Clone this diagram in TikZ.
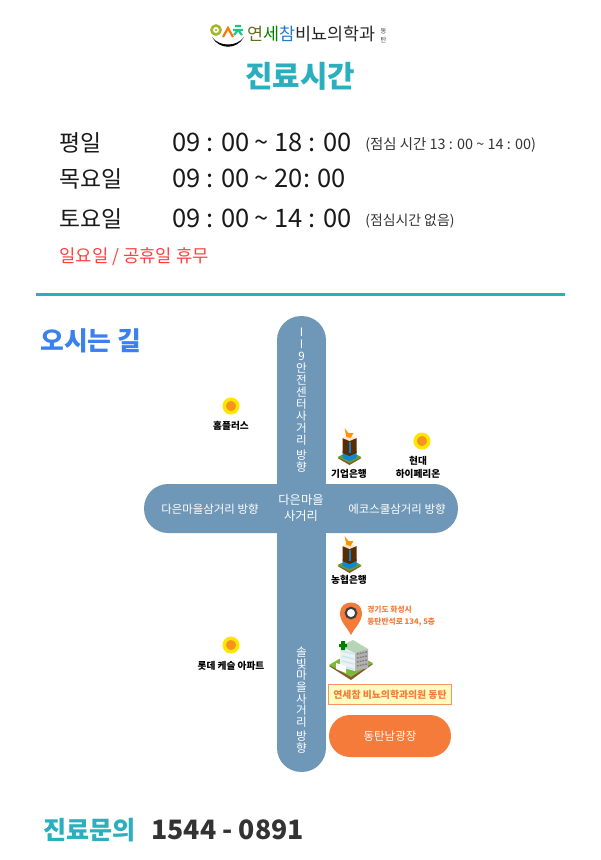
\documentclass[tikz,border=0pt]{standalone}
\usepackage{fontspec}
\setmainfont{Noto Sans CJK KR}
\definecolor{tealtext}{HTML}{2BAEBE}
\definecolor{roadblue}{HTML}{6F97B8}
\definecolor{pinorange}{HTML}{F47B3A}
\definecolor{sunyellow}{HTML}{FFE600}
\definecolor{sunorange}{HTML}{F7931E}
\definecolor{logogreen}{HTML}{A3B82C}
\definecolor{wayblue}{HTML}{3A80EE}
\definecolor{closedred}{HTML}{FF4040}
\definecolor{lawngreen}{HTML}{7DB83B}
\tikzstyle{hours}=[anchor=west,inner sep=0pt,text=black!90,font=\fontsize{14.5}{16}\selectfont]
\tikzstyle{day}=[anchor=west,inner sep=0pt,text=black!90,font=\fontsize{13}{15}\selectfont]
\tikzstyle{lunch}=[anchor=west,inner sep=0pt,text=black!80,font=\fontsize{7.9}{9}\selectfont]
\tikzstyle{road}=[rectangle,fill=roadblue,rounded corners=0.48cm,inner sep=0pt,outer sep=0pt]
\tikzstyle{roadtext}=[inner sep=0pt,text=white,align=center,font=\fontsize{6.5}{9}\selectfont]
\tikzstyle{roadcol}=[inner sep=0pt,text=white,align=center,font=\fontsize{6.6}{6.85}\selectfont]
\tikzstyle{place}=[inner sep=0pt,align=center,text=black,font=\fontsize{5.5}{7.4}\selectfont\bfseries]
\tikzstyle{sundot}=[circle,fill=sunorange,draw=sunyellow,line width=2pt,minimum size=7.7pt,inner sep=0pt]
\tikzset{
  bankicon/.pic={
    \fill[brown!70!black] (-12,11) -- (0,5) -- (12,11) -- (0,18) -- cycle;
    \fill[lawngreen!85!black] (-12,10) -- (0,4) -- (12,10) -- (0,16) -- cycle;
    \fill[cyan!70!blue] (-7,4) -- (7,4) -- (7,11) -- (0,14) -- (-7,11) -- cycle;
    \fill[black!65!orange] (-7,-9) -- (0,-7) -- (7,-9) -- (7,6) -- (0,9) -- (-7,6) -- cycle;
    \fill[cyan!60!blue] (-1,-5) rectangle (1,6);
    \fill[orange!20] (-7,-9) -- (-2,-12) -- (7,-9) -- (0,-6) -- cycle;
    \fill[orange!85!yellow] (-5,-19) -- (-1,-14) -- (4,-14) -- (1,-9) -- (-3,-10) -- cycle;
  },
  clinicicon/.pic={
    \fill[brown!70!black] (-22,1) -- (0,-13) -- (22,-1) -- (0,15) -- cycle;
    \fill[lawngreen] (-22,0) -- (0,-13) -- (22,-2) -- (0,12) -- cycle;
    \fill[black!30] (4,-13) -- (17,-16) -- (17,3) -- (4,6) -- cycle;
    \fill[black!6] (-11,-18) -- (4,-13) -- (4,6) -- (-11,2) -- cycle;
    \fill[green!25!gray!45] (-11,-19) -- (2,-25) -- (17,-16) -- (4,-12) -- cycle;
    \foreach \row in {-14,-9,-4,1}
      \draw[cyan!25,line width=0.8pt] (-9,\row) -- (3,\row+3);
    \foreach \row in {-11,-7,-3,1}
      \draw[black!50,line width=0.8pt,dash pattern=on 1pt off 0.6pt] (6,\row) -- (16,\row-2);
    \fill[white] (-15,-2) -- (-5,1) -- (-5,8) -- (-15,4) -- cycle;
    \fill[green!50!black] (-10,-24) rectangle (-6,-15) (-12,-21) rectangle (-4,-18);
  }
}
\begin{document}
\begin{tikzpicture}[x=0.02cm,y=-0.02cm]
\useasboundingbox (0,0) rectangle (600,860);
% logo
\draw[logogreen,line width=1.5pt] (216,30) circle (4.5);
\fill[logogreen] (216,30) circle (1.4);
\draw[orange!90!red,line width=1.2pt] (223,37) -- (228,28) -- (233,37);
\draw[tealtext!70!green,line width=1.2pt] (233,30) -- (243,30) (238,30) -- (234,35) (238,30) -- (242,35) (235,26) -- (241,26);
\fill[black] (212,37) .. controls (219,47) and (237,47) .. (244,37) .. controls (237,50) and (219,50) .. (212,37) -- cycle;
\node[inner sep=0pt,anchor=west,font=\fontsize{9.9}{11}\selectfont] at (247,34) (logotext) {\textcolor{logogreen!60!black}{연}\textcolor{green!50!black}{세}\textcolor{tealtext!70!blue}{참}\textcolor{black!85}{비뇨의학과}};
\node[inner sep=0pt,align=center,text=black!75,font=\fontsize{3.6}{5}\selectfont] at (383.5,36) (logobranch) {동\\탄};
\node[inner sep=0pt,text=tealtext,font=\fontsize{17}{19}\selectfont\bfseries] at (300,76) (title) {진료시간};

% hours
\node[day] at (59, 143) (weekday) {평일};
\node[day] at (59, 179) (thursday) {목요일};
\node[day] at (59, 219) (saturday) {토요일};
\node[hours] at (172, 142) (weekdaytime) {09 : 00 \textasciitilde\ 18 : 00};
\node[hours] at (172, 178) (thursdaytime) {09 : 00 \textasciitilde\ 20: 00};
\node[hours] at (172, 218) (saturdaytime) {09 : 00 \textasciitilde\ 14 : 00};
\node[lunch,font=\fontsize{8.2}{9}\selectfont] at (365, 145) (weekdaylunch) {(점심 시간 13 : 00 \textasciitilde\ 14 : 00)};
\node[lunch] at (365, 221) (saturdaylunch) {(점심시간 없음)};
\node[anchor=west,inner sep=0pt,text=closedred,font=\fontsize{10.1}{12}\selectfont] at (59, 257) (closed) {일요일 / 공휴일 휴무};
\fill[tealtext] (36,292.5) rectangle (565,295.5);

\node[anchor=west,inner sep=0pt,text=wayblue,font=\fontsize{14.7}{18}\selectfont\bfseries] at (40, 341) (waytitle) {오시는 길};

% roads
\node[road,minimum width=0.98cm,minimum height=9.12cm] at (301.5, 544) (roadv) {};
\node[road,minimum width=6.28cm,minimum height=0.98cm] at (301, 508.5) (roadh) {};
\node[roadcol] at (301.5, 400) (roadnorth) {I\\I\\9\\안\\전\\센\\터\\사\\거\\리\\[1.6pt]방\\향};
\node[roadcol,font=\fontsize{6.6}{6.65}\selectfont] at (301.5, 700) (roadsouth) {솔\\빛\\마\\을\\사\\거\\리\\[1.2pt]방\\향};
\node[roadtext] at (210, 509) (roadwest) {다은마을삼거리 방향};
\node[roadtext] at (397, 509) (roadeast) {에코스쿨삼거리 방향};
\node[roadtext,font=\fontsize{7}{9.2}\selectfont] at (301, 508) (crossing) {다은마을\\사거리};

% places
\node[sundot] at (231, 406) (homeplusdot) {};
\node[place] at (231, 426) (homeplus) {홈플러스};
\node[sundot] at (422, 441) (hyundaidot) {};
\node[place] at (418, 467) (hyundai) {현대\\하이페리온};
\node[sundot] at (231, 645) (lottedot) {};
\node[place] at (231, 666) (lotte) {롯데 케슬 아파트};
\path (349.5, 447) pic {bankicon};
\node[place] at (349, 474) (ibk) {기업은행};
\path (349.5, 555) pic {bankicon};
\node[place] at (349, 580) (nh) {농협은행};

% clinic
\fill[pinorange] (351,635) .. controls (347,627) and (340,622) .. (340,613) .. controls (340,599) and (362,599) .. (362,613) .. controls (362,622) and (355,627) .. (351,635) -- cycle;
\node[circle,fill=white,draw=black!75,line width=1.2pt,minimum size=6pt,inner sep=0pt] at (351,613) (pinhole) {};
\node[anchor=west,inner sep=0pt,align=left,text=pinorange,font=\fontsize{4.4}{6.9}\selectfont\bfseries] at (367, 616) (address) {경기도 화성시\\동탄반석로 134, 5층};
\path (351, 665) pic {clinicicon};
\node[draw=pinorange!80,fill=yellow!25,line width=0.8pt,minimum width=2.46cm,minimum height=0.4cm,inner sep=0pt,text=pinorange,font=\fontsize{5.6}{7}\selectfont\bfseries] at (390, 694.5) (clinicname) {연세참 비뇨의학과의원 동탄};
\node[rectangle,fill=pinorange,rounded corners=0.42cm,minimum width=2.44cm,minimum height=0.84cm,inner sep=0pt,text=white,font=\fontsize{6.5}{8}\selectfont] at (390, 736) (station) {동탄남광장};

% contact
\node[anchor=west,inner sep=0pt,text=tealtext,font=\fontsize{14.3}{16}\selectfont\bfseries] at (43, 830) (contact) {진료문의};
\node[anchor=west,inner sep=0pt,text=black!80,font=\fontsize{15.2}{18}\selectfont\bfseries] at (151, 830) (phone) {1544 - 0891};
\end{tikzpicture}
\end{document}
